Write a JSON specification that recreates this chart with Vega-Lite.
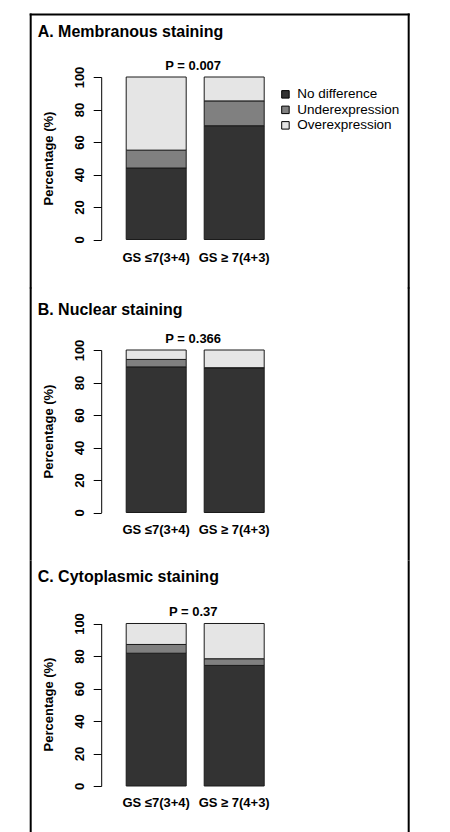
{
  "$schema": "https://vega.github.io/schema/vega-lite/v6.json",
  "background": "white",
  "padding": {"left": 27.2, "top": 14, "right": 5, "bottom": 0},
  "spacing": 0,
  "bounds": "flush",
  "config": {"view": {"stroke": null}, "font": "Liberation Sans"},
  "datasets": {
    "bars": [
      {"panel": "A", "group": "GS ≤7(3+4)", "category": "No difference", "rank": 1, "value": 44},
      {"panel": "A", "group": "GS ≤7(3+4)", "category": "Underexpression", "rank": 2, "value": 11},
      {"panel": "A", "group": "GS ≤7(3+4)", "category": "Overexpression", "rank": 3, "value": 45},
      {"panel": "A", "group": "GS ≥ 7(4+3)", "category": "No difference", "rank": 1, "value": 70},
      {"panel": "A", "group": "GS ≥ 7(4+3)", "category": "Underexpression", "rank": 2, "value": 15.3},
      {"panel": "A", "group": "GS ≥ 7(4+3)", "category": "Overexpression", "rank": 3, "value": 14.7},
      {"panel": "B", "group": "GS ≤7(3+4)", "category": "No difference", "rank": 1, "value": 89.6},
      {"panel": "B", "group": "GS ≤7(3+4)", "category": "Underexpression", "rank": 2, "value": 4.6},
      {"panel": "B", "group": "GS ≤7(3+4)", "category": "Overexpression", "rank": 3, "value": 5.8},
      {"panel": "B", "group": "GS ≥ 7(4+3)", "category": "No difference", "rank": 1, "value": 89.1},
      {"panel": "B", "group": "GS ≥ 7(4+3)", "category": "Underexpression", "rank": 2, "value": 0},
      {"panel": "B", "group": "GS ≥ 7(4+3)", "category": "Overexpression", "rank": 3, "value": 10.9},
      {"panel": "C", "group": "GS ≤7(3+4)", "category": "No difference", "rank": 1, "value": 81.7},
      {"panel": "C", "group": "GS ≤7(3+4)", "category": "Underexpression", "rank": 2, "value": 5.4},
      {"panel": "C", "group": "GS ≤7(3+4)", "category": "Overexpression", "rank": 3, "value": 12.9},
      {"panel": "C", "group": "GS ≥ 7(4+3)", "category": "No difference", "rank": 1, "value": 74.2},
      {"panel": "C", "group": "GS ≥ 7(4+3)", "category": "Underexpression", "rank": 2, "value": 4.1},
      {"panel": "C", "group": "GS ≥ 7(4+3)", "category": "Overexpression", "rank": 3, "value": 21.7}
    ],
    "pvals": [
      {"panel": "A", "p": "P = 0.007"},
      {"panel": "B", "p": "P = 0.366"},
      {"panel": "C", "p": "P = 0.37"}
    ]
  },
  "vconcat": [
    {
      "width": 378, "height": 273,
      "title": {"text": "A. Membranous staining", "anchor": "start", "frame": "group", "offset": -38.5, "baseline": "alphabetic", "dx": 7.5, "fontSize": 16, "fontWeight": "bold", "font": "Liberation Sans", "color": "#000"},
      "resolve": {"scale": {"x": "independent", "y": "independent"}},
      "layer": [
        {
          "data": {"name": "bars"},
          "transform": [{"filter": "datum.panel == 'A'"}],
          "mark": {"type": "bar", "stroke": "#1a1a1a", "strokeWidth": 1},
          "encoding": {
            "x": {"field": "group", "type": "nominal", "sort": ["GS ≤7(3+4)", "GS ≥ 7(4+3)"],
                  "scale": {"range": [96, 234], "paddingInner": 0.2308, "paddingOuter": 0},
                  "axis": {"orient": "bottom", "offset": -47.5, "title": null, "domain": false, "ticks": false, "tickSize": 0, "labelPadding": 21.5, "labelBaseline": "alphabetic", "labelAngle": 0, "labelFontSize": 13, "labelFontWeight": "bold", "labelColor": "#000", "labelFont": "Liberation Sans"}},
            "y": {"field": "value", "type": "quantitative", "stack": "zero",
                  "scale": {"domain": [0, 100], "range": [225.5, 63], "nice": false, "zero": true},
                  "axis": {"orient": "left", "offset": -71, "values": [0, 20, 40, 60, 80, 100], "grid": false, "title": "Percentage (%)", "titleFontSize": 13, "titleFontWeight": "bold", "titleColor": "#000", "titleFont": "Liberation Sans", "titleAngle": 270, "titleAlign": "center", "titleBaseline": "middle", "titleX": -53, "titleY": 144, "labelAngle": 270, "labelAlign": "center", "labelBaseline": "alphabetic", "labelPadding": 10, "labelFontSize": 13, "labelFontWeight": "bold", "labelColor": "#000", "labelFont": "Liberation Sans", "labelFlush": false, "labelOverlap": false, "tickSize": 8, "tickColor": "#000", "tickWidth": 1, "domainColor": "#000", "domainWidth": 1}},
            "color": {"field": "category", "type": "nominal",
                      "scale": {"domain": ["No difference", "Underexpression", "Overexpression"], "range": ["#333333", "#808080", "#e5e5e5"]},
                      "legend": {"title": null, "orient": "none", "legendX": 248.5, "legendY": 73.6, "symbolType": "square", "symbolSize": 56, "symbolStrokeColor": "#000", "symbolStrokeWidth": 1, "symbolOpacity": 1, "labelFontSize": 13.5, "labelFont": "Liberation Sans", "labelColor": "#000", "labelOffset": 5, "rowPadding": 0.5, "padding": 0}},
            "order": {"field": "rank", "type": "quantitative", "sort": "ascending"}
          }
        },
        {
          "data": {"name": "pvals"},
          "transform": [{"filter": "datum.panel == 'A'"}],
          "mark": {"type": "text", "fontSize": 13, "fontWeight": "bold", "font": "Liberation Sans", "color": "#000", "baseline": "alphabetic", "align": "center", "dy": -7, "dx": -2},
          "encoding": {
            "text": {"field": "p"},
            "x": {"datum": 0.5, "type": "quantitative", "scale": {"domain": [0, 1], "range": [96, 234]}, "axis": null},
            "y": {"datum": 100, "type": "quantitative", "scale": {"domain": [0, 100], "range": [225.5, 63]}, "axis": null}
          }
        },
        {
          "data": {"name": "pvals"},
          "transform": [{"filter": "datum.panel == 'A'"}],
          "mark": {"type": "point", "opacity": 0},
          "encoding": {
            "x": {"datum": 0, "type": "quantitative", "scale": {"domain": [0, 1]}, "axis": {"orient": "top", "domain": true, "domainColor": "#000", "domainWidth": 2, "domainCap": "square", "ticks": false, "labels": false, "grid": false, "title": null}},
            "y": {"datum": 0, "type": "quantitative", "scale": {"domain": [0, 1]}, "axis": {"orient": "left", "domain": true, "domainColor": "#000", "domainWidth": 2, "domainCap": "square", "ticks": false, "labels": false, "grid": false, "title": null}}
          }
        },
        {
          "data": {"name": "pvals"},
          "transform": [{"filter": "datum.panel == 'A'"}],
          "mark": {"type": "point", "opacity": 0},
          "encoding": {
            "y": {"datum": 0, "type": "quantitative", "scale": {"domain": [0, 1]}, "axis": {"orient": "right", "domain": true, "domainColor": "#000", "domainWidth": 2, "domainCap": "square", "ticks": false, "labels": false, "grid": false, "title": null}}
          }
        }
      ]
    },
    {
      "width": 378, "height": 273,
      "title": {"text": "B. Nuclear staining", "anchor": "start", "frame": "group", "offset": -43.5, "baseline": "alphabetic", "dx": 7.5, "fontSize": 16, "fontWeight": "bold", "font": "Liberation Sans", "color": "#000"},
      "resolve": {"scale": {"x": "independent", "y": "independent"}},
      "layer": [
        {
          "data": {"name": "bars"},
          "transform": [{"filter": "datum.panel == 'B'"}],
          "mark": {"type": "bar", "stroke": "#1a1a1a", "strokeWidth": 1},
          "encoding": {
            "x": {"field": "group", "type": "nominal", "sort": ["GS ≤7(3+4)", "GS ≥ 7(4+3)"],
                  "scale": {"range": [96, 234], "paddingInner": 0.2308, "paddingOuter": 0},
                  "axis": {"orient": "bottom", "offset": -47.5, "title": null, "domain": false, "ticks": false, "tickSize": 0, "labelPadding": 21.5, "labelBaseline": "alphabetic", "labelAngle": 0, "labelFontSize": 13, "labelFontWeight": "bold", "labelColor": "#000", "labelFont": "Liberation Sans"}},
            "y": {"field": "value", "type": "quantitative", "stack": "zero",
                  "scale": {"domain": [0, 100], "range": [225.5, 63], "nice": false, "zero": true},
                  "axis": {"orient": "left", "offset": -71, "values": [0, 20, 40, 60, 80, 100], "grid": false, "title": "Percentage (%)", "titleFontSize": 13, "titleFontWeight": "bold", "titleColor": "#000", "titleFont": "Liberation Sans", "titleAngle": 270, "titleAlign": "center", "titleBaseline": "middle", "titleX": -53, "titleY": 144, "labelAngle": 270, "labelAlign": "center", "labelBaseline": "alphabetic", "labelPadding": 10, "labelFontSize": 13, "labelFontWeight": "bold", "labelColor": "#000", "labelFont": "Liberation Sans", "labelFlush": false, "labelOverlap": false, "tickSize": 8, "tickColor": "#000", "tickWidth": 1, "domainColor": "#000", "domainWidth": 1}},
            "color": {"field": "category", "type": "nominal",
                      "scale": {"domain": ["No difference", "Underexpression", "Overexpression"], "range": ["#333333", "#808080", "#e5e5e5"]},
                      "legend": {"title": null, "orient": "none", "legendX": 248.5, "legendY": 74.6, "symbolType": "square", "symbolSize": 56, "symbolStrokeColor": "#000", "symbolStrokeWidth": 1, "symbolOpacity": 1, "labelFontSize": 13.5, "labelFont": "Liberation Sans", "labelColor": "#000", "labelOffset": 5, "rowPadding": 0.5, "padding": 0}},
            "order": {"field": "rank", "type": "quantitative", "sort": "ascending"}
          }
        },
        {
          "data": {"name": "pvals"},
          "transform": [{"filter": "datum.panel == 'B'"}],
          "mark": {"type": "text", "fontSize": 13, "fontWeight": "bold", "font": "Liberation Sans", "color": "#000", "baseline": "alphabetic", "align": "center", "dy": -7, "dx": -2},
          "encoding": {
            "text": {"field": "p"},
            "x": {"datum": 0.5, "type": "quantitative", "scale": {"domain": [0, 1], "range": [96, 234]}, "axis": null},
            "y": {"datum": 100, "type": "quantitative", "scale": {"domain": [0, 100], "range": [225.5, 63]}, "axis": null}
          }
        },
        {
          "data": {"name": "pvals"},
          "transform": [{"filter": "datum.panel == 'B'"}],
          "mark": {"type": "point", "opacity": 0},
          "encoding": {
            "y": {"datum": 0, "type": "quantitative", "scale": {"domain": [0, 1]}, "axis": {"orient": "left", "domain": true, "domainColor": "#000", "domainWidth": 2, "ticks": false, "labels": false, "grid": false, "title": null}}
          }
        },
        {
          "data": {"name": "pvals"},
          "transform": [{"filter": "datum.panel == 'B'"}],
          "mark": {"type": "point", "opacity": 0},
          "encoding": {
            "y": {"datum": 0, "type": "quantitative", "scale": {"domain": [0, 1]}, "axis": {"orient": "right", "domain": true, "domainColor": "#000", "domainWidth": 2, "ticks": false, "labels": false, "grid": false, "title": null}}
          }
        }
      ]
    },
    {
      "width": 378, "height": 273,
      "title": {"text": "C. Cytoplasmic staining", "anchor": "start", "frame": "group", "offset": -38.5, "baseline": "alphabetic", "dx": 7.5, "fontSize": 16, "fontWeight": "bold", "font": "Liberation Sans", "color": "#000"},
      "resolve": {"scale": {"x": "independent", "y": "independent"}},
      "layer": [
        {
          "data": {"name": "bars"},
          "transform": [{"filter": "datum.panel == 'C'"}],
          "mark": {"type": "bar", "stroke": "#1a1a1a", "strokeWidth": 1},
          "encoding": {
            "x": {"field": "group", "type": "nominal", "sort": ["GS ≤7(3+4)", "GS ≥ 7(4+3)"],
                  "scale": {"range": [96, 234], "paddingInner": 0.2308, "paddingOuter": 0},
                  "axis": {"orient": "bottom", "offset": -47.5, "title": null, "domain": false, "ticks": false, "tickSize": 0, "labelPadding": 21.5, "labelBaseline": "alphabetic", "labelAngle": 0, "labelFontSize": 13, "labelFontWeight": "bold", "labelColor": "#000", "labelFont": "Liberation Sans"}},
            "y": {"field": "value", "type": "quantitative", "stack": "zero",
                  "scale": {"domain": [0, 100], "range": [226, 63.5], "nice": false, "zero": true},
                  "axis": {"orient": "left", "offset": -71, "values": [0, 20, 40, 60, 80, 100], "grid": false, "title": "Percentage (%)", "titleFontSize": 13, "titleFontWeight": "bold", "titleColor": "#000", "titleFont": "Liberation Sans", "titleAngle": 270, "titleAlign": "center", "titleBaseline": "middle", "titleX": -53, "titleY": 144, "labelAngle": 270, "labelAlign": "center", "labelBaseline": "alphabetic", "labelPadding": 10, "labelFontSize": 13, "labelFontWeight": "bold", "labelColor": "#000", "labelFont": "Liberation Sans", "labelFlush": false, "labelOverlap": false, "tickSize": 8, "tickColor": "#000", "tickWidth": 1, "domainColor": "#000", "domainWidth": 1}},
            "color": {"field": "category", "type": "nominal",
                      "scale": {"domain": ["No difference", "Underexpression", "Overexpression"], "range": ["#333333", "#808080", "#e5e5e5"]},
                      "legend": {"title": null, "orient": "none", "legendX": 248.5, "legendY": 74.3, "symbolType": "square", "symbolSize": 56, "symbolStrokeColor": "#000", "symbolStrokeWidth": 1, "symbolOpacity": 1, "labelFontSize": 13.5, "labelFont": "Liberation Sans", "labelColor": "#000", "labelOffset": 5, "rowPadding": 0.5, "padding": 0}},
            "order": {"field": "rank", "type": "quantitative", "sort": "ascending"}
          }
        },
        {
          "data": {"name": "pvals"},
          "transform": [{"filter": "datum.panel == 'C'"}],
          "mark": {"type": "text", "fontSize": 13, "fontWeight": "bold", "font": "Liberation Sans", "color": "#000", "baseline": "alphabetic", "align": "center", "dy": -7, "dx": -2},
          "encoding": {
            "text": {"field": "p"},
            "x": {"datum": 0.5, "type": "quantitative", "scale": {"domain": [0, 1], "range": [96, 234]}, "axis": null},
            "y": {"datum": 100, "type": "quantitative", "scale": {"domain": [0, 100], "range": [226, 63.5]}, "axis": null}
          }
        },
        {
          "data": {"name": "pvals"},
          "transform": [{"filter": "datum.panel == 'C'"}],
          "mark": {"type": "point", "opacity": 0},
          "encoding": {
            "y": {"datum": 0, "type": "quantitative", "scale": {"domain": [0, 1]}, "axis": {"orient": "left", "domain": true, "domainColor": "#000", "domainWidth": 2, "ticks": false, "labels": false, "grid": false, "title": null}}
          }
        },
        {
          "data": {"name": "pvals"},
          "transform": [{"filter": "datum.panel == 'C'"}],
          "mark": {"type": "point", "opacity": 0},
          "encoding": {
            "y": {"datum": 0, "type": "quantitative", "scale": {"domain": [0, 1]}, "axis": {"orient": "right", "domain": true, "domainColor": "#000", "domainWidth": 2, "ticks": false, "labels": false, "grid": false, "title": null}}
          }
        }
      ]
    }
  ]
}
